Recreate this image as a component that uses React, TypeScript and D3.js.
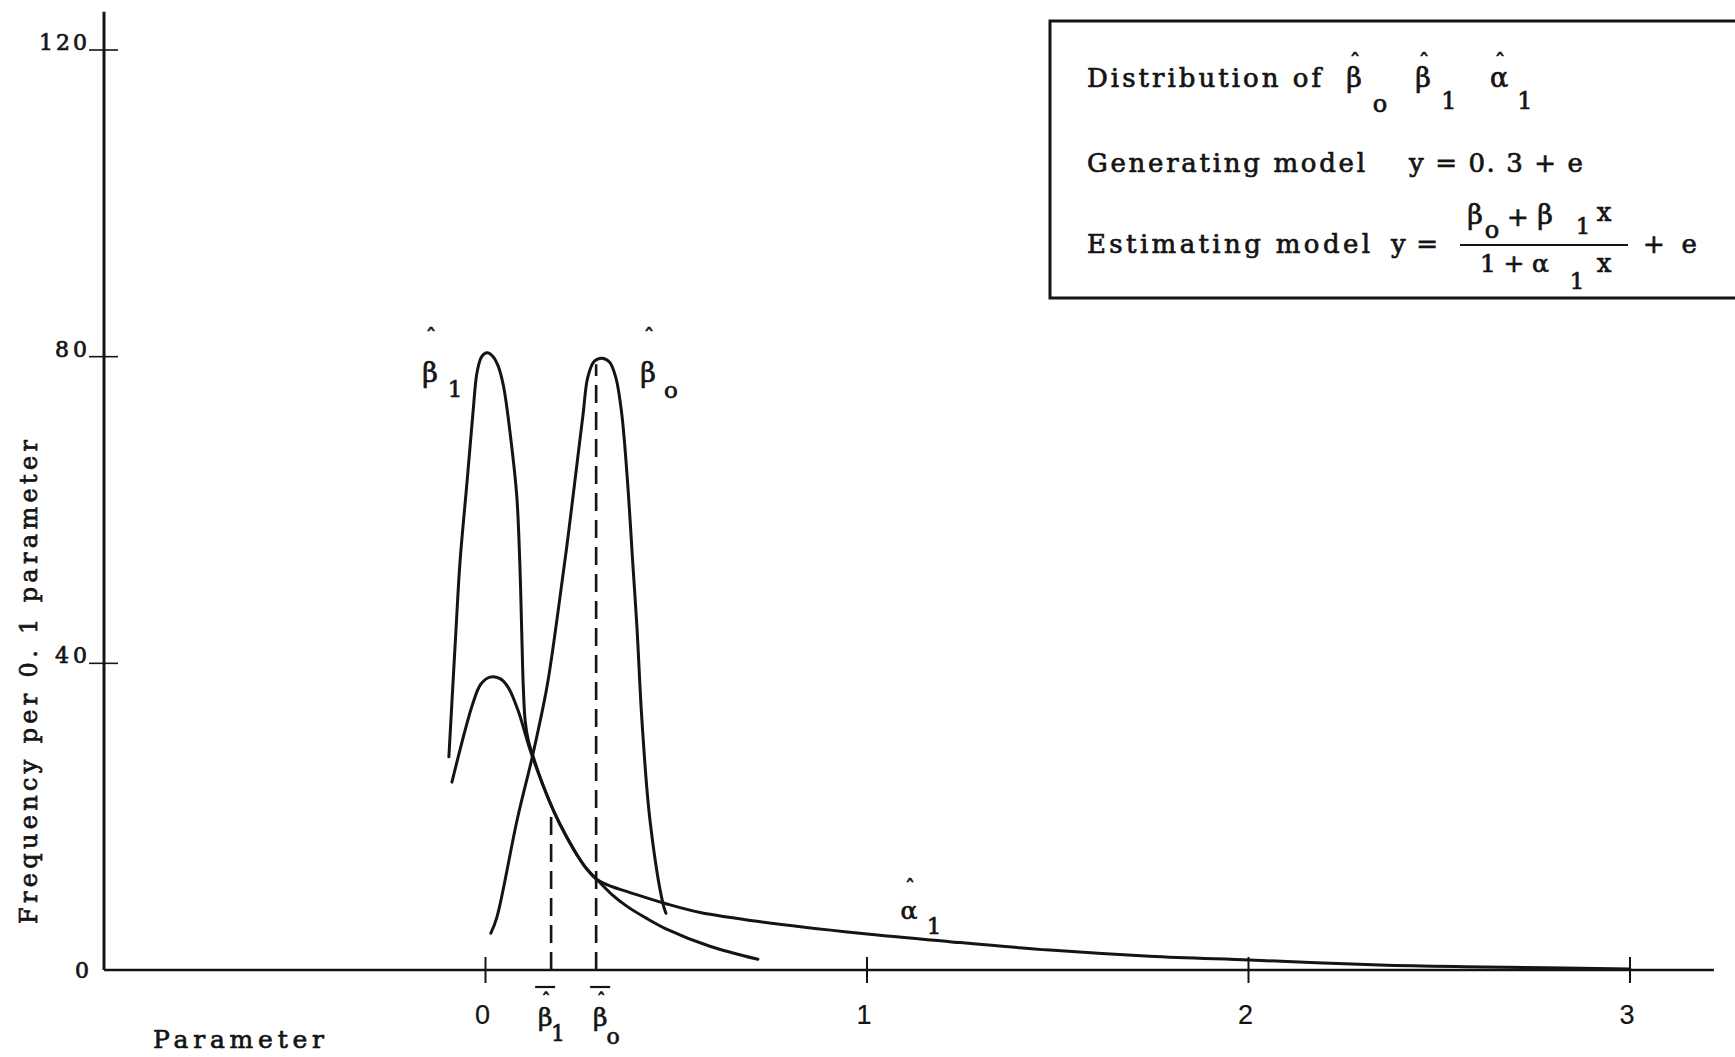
import React, { useEffect, useRef } from 'react';
import * as d3 from 'd3';

// beta-hat-1: parameter value and frequency per 0.1 parameter
const betaOneX = [-0.096, -0.077, -0.067, -0.048, -0.033, -0.022, -0.010, 0.004, 0.020, 0.033, 0.047, 0.067, 0.082, 0.090, 0.095, 0.099, 0.104, 0.112, 0.122, 0.150, 0.180, 0.210, 0.240, 0.265, 0.292, 0.330, 0.371, 0.420, 0.476, 0.588, 0.714];
const betaOneY = [27.8, 44.7, 53.1, 63.9, 72.6, 78.0, 80.0, 80.5, 80.0, 78.8, 76.2, 69.0, 61.8, 53.0, 44.0, 37.0, 32.5, 30.0, 28.3, 24.2, 20.6, 17.6, 15.0, 13.2, 11.8, 9.9, 8.3, 6.8, 5.3, 3.1, 1.4];

// alpha-hat-1
const alphaOneX = [-0.088, -0.033, -0.012, 0.012, 0.038, 0.059, 0.085, 0.117, 0.150, 0.180, 0.210, 0.240, 0.265, 0.292, 0.330, 0.379, 0.476, 0.563, 0.720, 0.981, 1.217, 1.479, 1.741, 2.003, 2.344, 2.617, 3.0];
const alphaOneY = [24.5, 34.8, 37.3, 38.2, 38.0, 36.9, 33.9, 28.7, 24.2, 20.6, 17.6, 15.0, 13.2, 11.8, 10.9, 10.1, 8.6, 7.5, 6.3, 4.8, 3.7, 2.6, 1.8, 1.3, 0.65, 0.4, 0.13];

// beta-hat-0
const betaZeroX = [0.014, 0.030, 0.083, 0.125, 0.161, 0.187, 0.213, 0.240, 0.256, 0.268, 0.285, 0.305, 0.325, 0.342, 0.357, 0.372, 0.386, 0.397, 0.410, 0.431, 0.465, 0.473];
const betaZeroY = [4.8, 6.9, 19.6, 28.3, 36.9, 45.6, 55.2, 66.1, 72.6, 77.3, 79.4, 79.8, 79.3, 77.2, 72.6, 63.9, 53.1, 44.7, 32.6, 19.6, 8.7, 7.4];

// mean values (beta-bar-1, beta-bar-0) and the height of their dashed lines
const meanNames = ['1', 'o'];
const meanValues = [0.172, 0.290];
const meanTops = [21, 79];

const xTicks = [0, 1, 2, 3];
const yTicks = [40, 80, 120];

const serif = '"DejaVu Serif", "Liberation Serif", serif';
const sans = '"Liberation Sans", "DejaVu Sans", sans-serif';

const App = () => {
    const ref = useRef<SVGSVGElement>(null);

    const drawChart = () => {
        const svg = d3.select(ref.current);
        svg.selectAll('*').remove();

        const x = d3.scaleLinear().domain([-1, 3]).range([104, 1630]);
        const y = d3.scaleLinear().domain([0, 120]).range([970, 50]);
        const ink = '#141414';

        svg.append('rect').attr('width', 1735).attr('height', 1057).attr('fill', '#fff');

        const txt = (px: number, py: number, s: string, size: number, opts: any = {}) => {
            const t = svg.append('text')
                .attr('x', px)
                .attr('y', py)
                .attr('font-family', opts.family || serif)
                .attr('font-size', size)
                .attr('fill', ink)
                .attr('stroke', ink)
                .attr('stroke-width', opts.family === sans ? 0.2 : 0.7)
                .attr('text-anchor', opts.anchor || 'start')
                .text(s);
            if (opts.len) t.attr('textLength', opts.len).attr('lengthAdjust', 'spacing');
            if (opts.rotate) t.attr('transform', `rotate(-90, ${px}, ${py})`);
            return t;
        };

        // a symbol with a circumflex above it, kept as one text element
        const hatted = (cx: number, base: number, g: string, size: number, hatGap: number, hatSize = 22) => {
            const t = svg.append('text')
                .attr('font-family', serif)
                .attr('fill', ink)
                .attr('stroke', ink)
                .attr('stroke-width', 0.7)
                .attr('text-anchor', 'middle');
            t.append('tspan')
                .attr('x', cx + 1).attr('y', base - hatGap)
                .attr('font-size', hatSize)
                .text('ˆ');
            t.append('tspan')
                .attr('x', cx).attr('y', base)
                .attr('font-size', size)
                .text(g);
        };

        // axes
        svg.append('line')
            .attr('x1', x(-1)).attr('x2', x(-1))
            .attr('y1', y(0)).attr('y2', y(125))
            .attr('stroke', ink).attr('stroke-width', 3);
        svg.append('line')
            .attr('x1', x(-1)).attr('x2', x(3.22))
            .attr('y1', y(0)).attr('y2', y(0))
            .attr('stroke', ink).attr('stroke-width', 2.6);

        // y ticks
        yTicks.forEach((t) => {
            svg.append('line')
                .attr('x1', x(-1) - 15).attr('x2', x(-1) + 14)
                .attr('y1', y(t)).attr('y2', y(t))
                .attr('stroke', ink).attr('stroke-width', 1.6);
            txt(x(-1) - 17, y(t), String(t), 22, { anchor: 'end', len: String(t).length * 16 });
        });
        txt(x(-1) - 15, y(0) + 8, '0', 22, { anchor: 'end' });

        // x ticks
        xTicks.forEach((t) => {
            svg.append('line')
                .attr('x1', x(t)).attr('x2', x(t))
                .attr('y1', y(0) - 13).attr('y2', y(0) + 13)
                .attr('stroke', ink).attr('stroke-width', 2);
            txt(x(t) - 3, 1024, String(t), 27, { anchor: 'middle', family: sans });
        });

        // dashed mean lines with their labels
        meanValues.forEach((m, i) => {
            svg.append('line')
                .attr('x1', x(m)).attr('x2', x(m))
                .attr('y1', y(0)).attr('y2', y(meanTops[i]))
                .attr('stroke', ink).attr('stroke-width', 2.6)
                .attr('stroke-dasharray', '18,9');
            const cx = x(m) + (i === 0 ? -6 : 4);
            svg.append('line')
                .attr('x1', cx - 10).attr('x2', cx + 10)
                .attr('y1', 987).attr('y2', 987)
                .attr('stroke', ink).attr('stroke-width', 2.2);
            hatted(cx, 1026, 'β', 25, 19, 18);
            txt(cx + 13, i === 0 ? 1041 : 1044, meanNames[i], 22, { anchor: 'middle' });
        });

        // curves
        const line = d3.line<[number, number]>()
            .x((d) => x(d[0]))
            .y((d) => y(d[1]))
            .curve(d3.curveCatmullRom.alpha(0.5));

        [[betaOneX, betaOneY], [alphaOneX, alphaOneY], [betaZeroX, betaZeroY]].forEach(([xs, ys]) => {
            svg.append('path')
                .datum(xs.map((v, i) => [v, ys[i]] as [number, number]))
                .attr('d', line)
                .attr('fill', 'none')
                .attr('stroke', ink)
                .attr('stroke-width', 3)
                .attr('stroke-linecap', 'round');
        });

        // curve labels
        hatted(430, 382, 'β', 27, 37);
        txt(455, 397, '1', 23, { anchor: 'middle' });

        hatted(648, 382, 'β', 27, 37);
        txt(671, 398, 'o', 23, { anchor: 'middle' });

        hatted(909, 919, 'α', 25, 24, 20);
        txt(934, 934, '1', 23, { anchor: 'middle' });

        // axis titles
        txt(37, 924, 'Frequency per 0. 1 parameter', 24, { rotate: true, len: 484 });
        txt(153, 1048, 'Parameter', 25, { len: 171 });

        // legend box
        svg.append('path')
            .attr('d', 'M1735,21 H1050 V298 H1735')
            .attr('fill', 'none')
            .attr('stroke', ink)
            .attr('stroke-width', 3);

        txt(1087, 87, 'Distribution of', 26, { len: 234 });
        [[1354, 'β', 'o', 112], [1423, 'β', '1', 109], [1499, 'α', '1', 109]].forEach(([cx, g, s, sy]: any) => {
            hatted(cx, 87, g, 27, 17);
            txt(cx + 26, sy, s, 24, { anchor: 'middle' });
        });

        txt(1087, 172, 'Generating model', 26, { len: 278 });
        txt(1409, 172, 'y = 0. 3 + e', 26, { len: 174 });

        txt(1087, 253, 'Estimating model', 26, { len: 283 });
        txt(1391, 253, 'y =', 26, { len: 47 });
        txt(1475, 224, 'β', 27, { anchor: 'middle' });
        txt(1492, 238, 'o', 24, { anchor: 'middle' });
        txt(1518, 226, '+', 26, { anchor: 'middle' });
        txt(1545, 224, 'β', 27, { anchor: 'middle' });
        txt(1583, 234, '1', 23, { anchor: 'middle' });
        txt(1604, 221, 'x', 26, { anchor: 'middle' });
        svg.append('line')
            .attr('x1', 1460).attr('x2', 1628)
            .attr('y1', 245).attr('y2', 245)
            .attr('stroke', ink).attr('stroke-width', 2.2);
        txt(1480, 272, '1 + α', 25, { len: 69 });
        txt(1577, 289, '1', 23, { anchor: 'middle' });
        txt(1604, 272, 'x', 26, { anchor: 'middle' });
        txt(1643, 253, '+ e', 26, { len: 54 });
    };

    useEffect(() => {
        drawChart();
    }, []);

    return (
        <svg
            ref={ref}
            width={1735}
            height={1057}
            style={{ position: 'absolute', left: 0, top: 0, display: 'block' }}
        />
    );
};

export default App;
